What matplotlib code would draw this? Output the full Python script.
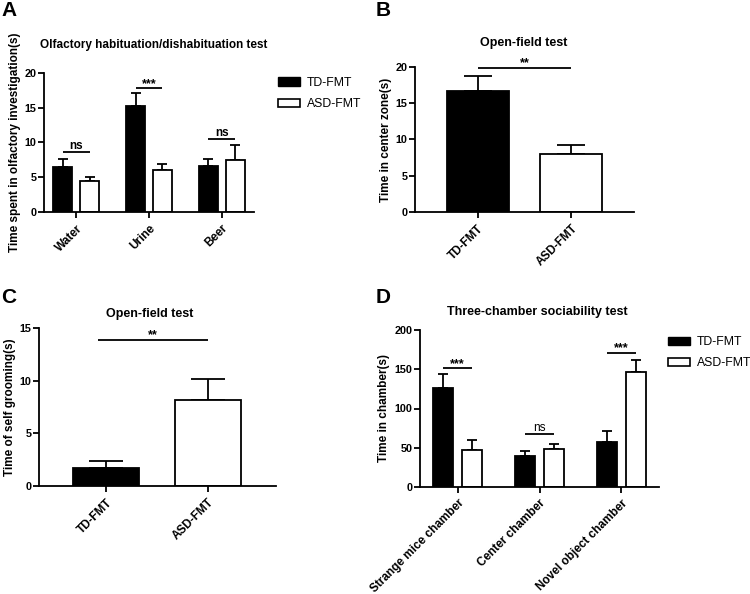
import numpy as np
import matplotlib
matplotlib.use('Agg')
import matplotlib.pyplot as plt
from matplotlib.patches import Patch

plt.rcParams.update({
    'font.family': ['Liberation Sans', 'DejaVu Sans'],
    'font.weight': 'bold',
    'axes.linewidth': 1.3,
    'xtick.major.width': 1.3,
    'ytick.major.width': 1.3,
    'xtick.major.size': 4,
    'ytick.major.size': 4,
    'ytick.major.pad': 1.5,
    'xtick.labelsize': 8.5,
    'ytick.labelsize': 7.8,
})

W, H = 750, 594

# Panel A: olfactory habituation/dishabituation
a_groups = ["Water", "Urine", "Beer"]
a_td = [6.5, 15.3, 6.6]
a_td_err = [7.6, 17.1, 7.6]
a_asd = [4.4, 6.1, 7.5]
a_asd_err = [5.1, 6.9, 9.7]
a_sig = ["ns", "***", "ns"]
a_sig_y = [8.7, 17.8, 10.5]

# Panel B: open-field, center zone
b_groups = ["TD-FMT", "ASD-FMT"]
b_vals = [16.7, 8.0]
b_err = [18.8, 9.3]

# Panel C: open-field, self grooming
c_groups = ["TD-FMT", "ASD-FMT"]
c_vals = [1.75, 8.2]
c_err = [2.4, 10.2]

# Panel D: three-chamber sociability
d_groups = ["Strange mice chamber", "Center chamber", "Novel object chamber"]
d_td = [126.5, 39.5, 57.8]
d_td_err = [144.5, 46.0, 71.8]
d_asd = [47.2, 48.0, 146.5]
d_asd_err = [59.6, 55.3, 161.5]
d_sig = ["***", "ns", "***"]
d_sig_y = [151, 67.5, 171]


def px_axes(fig, left, right, top, bottom):
    return fig.add_axes([left / W, 1 - bottom / H, (right - left) / W, (bottom - top) / H])


def style(ax, label, lx):
    ax.spines['top'].set_visible(False)
    ax.spines['right'].set_visible(False)
    for lab in ax.get_yticklabels():
        lab.set_fontweight('bold')
    ax.set_ylabel(label, fontsize=8.5, fontweight='bold')
    ax.yaxis.set_label_coords(lx, 0.5)


def sig_line(ax, x0, x1, y, text, weight='bold'):
    ax.plot([x0, x1], [y, y], color='black', lw=1.3, solid_capstyle='butt')
    fs = 8.5 if text == 'ns' else 9
    ax.annotate(text, ((x0 + x1) / 2, y), xytext=(0, -1 if text != 'ns' else 0),
                textcoords='offset points', ha='center', va='bottom',
                fontsize=fs, fontweight=weight)


def grouped(ax, groups, td, td_err, asd, asd_err, width, off, cap):
    x = np.arange(len(groups))
    td = np.array(td)
    asd = np.array(asd)
    ax.bar(x - off, td, width, color='black', edgecolor='black', lw=1.3, zorder=2)
    ax.bar(x + off, asd, width, color='white', edgecolor='black', lw=1.3, zorder=2)
    ax.errorbar(x - off, td, yerr=[np.zeros(len(x)), np.array(td_err) - td], fmt='none',
                ecolor='black', elinewidth=1.3, capsize=cap, capthick=1.3, zorder=1)
    ax.errorbar(x + off, asd, yerr=[np.zeros(len(x)), np.array(asd_err) - asd], fmt='none',
                ecolor='black', elinewidth=1.3, capsize=cap, capthick=1.3, zorder=1)
    ax.set_xticks(x)
    ax.set_xticklabels(groups, rotation=45, ha='right', rotation_mode='anchor', fontweight='bold')
    return x


def single(ax, groups, vals, err, width, cap):
    x = np.arange(len(groups))
    vals = np.array(vals)
    ax.bar(x, vals, width, color=['black', 'white'], edgecolor='black', lw=1.3, zorder=2)
    ax.errorbar(x, vals, yerr=[np.zeros(len(x)), np.array(err) - vals], fmt='none',
                ecolor='black', elinewidth=1.3, capsize=cap, capthick=1.3, zorder=1)
    ax.set_xticks(x)
    ax.set_xticklabels(groups, rotation=45, ha='right', rotation_mode='anchor', fontweight='bold')
    return x


def title(fig, text, cx, cy, fs):
    fig.text(cx / W, 1 - cy / H, text, fontsize=fs, fontweight='bold', ha='center', va='center')


fig = plt.figure(figsize=(W / 100, H / 100), dpi=100)

legend_handles = [Patch(facecolor='black', edgecolor='black', label='TD-FMT'),
                  Patch(facecolor='white', edgecolor='black', lw=1.2, label='ASD-FMT')]
leg_kw = dict(loc='upper left', frameon=False, prop={'size': 8.8, 'weight': 'normal'},
              handlelength=1.8, handleheight=0.7, labelspacing=0.75, handletextpad=0.6)

# ---- A ----
axA = px_axes(fig, 44, 254, 73, 212)
x = grouped(axA, a_groups, a_td, a_td_err, a_asd, a_asd_err, 0.25, 0.185, 3.6)
for i, (s, y) in enumerate(zip(a_sig, a_sig_y)):
    sig_line(axA, x[i] - 0.185, x[i] + 0.185, y, s)
axA.set_xlim(-0.44, 2.44)
axA.set_ylim(0, 20)
axA.set_yticks([0, 5, 10, 15, 20])
style(axA, "Time spent in olfactory investigation(s)", -0.11)
title(fig, "Olfactory habituation/dishabituation test", 154, 45, 8.5)
axA.legend(handles=legend_handles, bbox_to_anchor=(1.06, 1.05), **leg_kw)

# ---- B ----
axB = px_axes(fig, 415, 634, 67, 212)
x = single(axB, b_groups, b_vals, b_err, 0.66, 10)
sig_line(axB, 0, 1, 19.9, "**")
axB.set_xlim(-0.67, 1.67)
axB.set_ylim(0, 20)
axB.set_yticks([0, 5, 10, 15, 20])
style(axB, "Time in center zone(s)", -0.105)
title(fig, "Open-field test", 524, 43, 9)

# ---- C ----
axC = px_axes(fig, 39, 276, 328, 486)
x = single(axC, c_groups, c_vals, c_err, 0.65, 12)
sig_line(axC, -0.08, 1.0, 13.9, "**")
axC.set_xlim(-0.66, 1.67)
axC.set_ylim(0, 15)
axC.set_yticks([0, 5, 10, 15])
style(axC, "Time of self grooming(s)", -0.095)
title(fig, "Open-field test", 150, 314, 9)

# ---- D ----
axD = px_axes(fig, 420, 659, 330, 487)
x = grouped(axD, d_groups, d_td, d_td_err, d_asd, d_asd_err, 0.245, 0.18, 3.6)
for i, (s, y) in enumerate(zip(d_sig, d_sig_y)):
    sig_line(axD, x[i] - 0.18, x[i] + 0.18, y, s, weight='normal' if s == 'ns' else 'bold')
axD.set_xlim(-0.46, 2.46)
axD.set_ylim(0, 200)
axD.set_yticks([0, 50, 100, 150, 200])
style(axD, "Time in chamber(s)", -0.126)
title(fig, "Three-chamber sociability test", 537, 312, 9)
axD.legend(handles=legend_handles, bbox_to_anchor=(0.99, 1.03), **leg_kw)

# panel letters
for lab, (px, py) in zip("ABCD", [(1, 1), (376, 1), (1, 288), (376, 288)]):
    fig.text(px / W, 1 - py / H, lab, fontsize=15, fontweight='bold', ha='left', va='top')

fig.savefig("out.png", dpi=100)
